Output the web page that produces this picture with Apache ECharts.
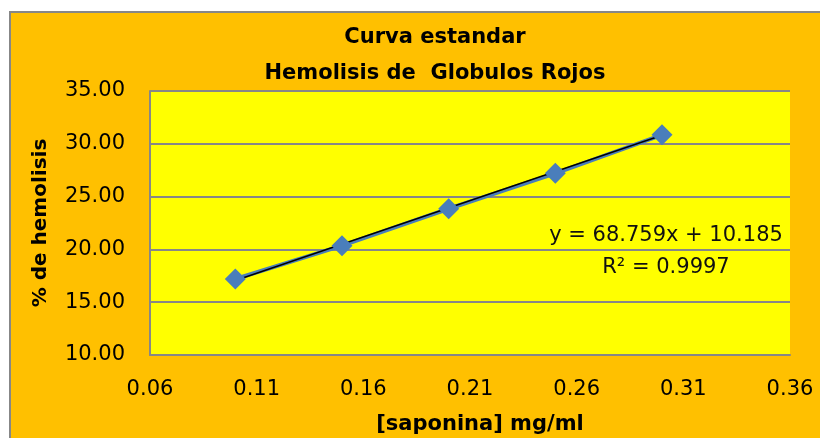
<!DOCTYPE html>
<html>
<head>
<meta charset="utf-8">
<script src="https://cdn.jsdelivr.net/npm/echarts@6/dist/echarts.min.js"></script>
<style>
body { margin: 0; background: #ffffff; }
#frame { position: absolute; left: 9px; top: 11px; width: 830px; height: 440px; background: #FFC000; border: 2px solid #878787; }
#chart { position: absolute; left: 0; top: 0; width: 820px; height: 438px; }
</style>
</head>
<body>
<div id="frame"></div>
<div id="chart"></div>
<script>
// datos de la curva
var concentracion = [0.10, 0.15, 0.20, 0.25, 0.30];
var hemolisis = [17.20, 20.35, 23.85, 27.20, 30.85];
// linea de tendencia (extremos)
var tendenciaX = [0.10, 0.30];
var tendenciaY = [17.06, 30.81];
// ticks del eje x: 0.06 ... 0.36 cada 0.05
var xMin = 0.06, xMax = 0.36, xPaso = 0.05;

var fuente = 'DejaVu Sans';
var gris = '#878787';

function pares(xs, ys) {
	var out = [];
	for(var i = 0; i < xs.length; i++) {
		out.push([xs[i], ys[i]]);
	}
	return out;
}

var option = {
	backgroundColor: 'transparent',
	animation: false,
	title: {
		text: 'Curva estandar\nHemolisis de  Globulos Rojos',
		left: 430,
		top: 15,
		textAlign: 'center',
		textStyle: { fontFamily: fuente, fontSize: 21, fontWeight: 'bold', lineHeight: 36, color: '#000' }
	},
	grid: {
		left: 150,
		right: 30,
		top: 91,
		bottom: 83,
		containLabel: false,
		outerBoundsMode: 'none',
		show: true,
		backgroundColor: '#FFFF00',
		borderWidth: 0,
		borderColor: 'transparent'
	},
	xAxis: {
		type: 'value',
		min: xMin,
		max: xMax,
		interval: xPaso,
		axisLine: { show: true, onZero: false, lineStyle: { color: gris, width: 2 } },
		axisTick: { show: false },
		splitLine: { show: false },
		axisLabel: {
			margin: 24,
			fontFamily: fuente,
			fontSize: 21,
			color: '#000',
			formatter: function(v) { return v.toFixed(2); }
		},
		name: '[saponina] mg/ml',
		nameLocation: 'middle',
		nameGap: 59,
		nameTextStyle: { fontFamily: fuente, fontSize: 21, fontWeight: 'bold', color: '#000', padding: [0, 0, 0, 20] }
	},
	yAxis: {
		type: 'value',
		min: 10,
		max: 35,
		interval: 5,
		position: 'left',
		axisLine: { show: true, onZero: false, lineStyle: { color: gris, width: 2 } },
		axisTick: { show: false },
		splitLine: { lineStyle: { color: gris, width: 2 } },
		axisLabel: {
			margin: 25,
			fontFamily: fuente,
			fontSize: 21,
			color: '#000',
			formatter: function(v) { return v.toFixed(2); }
		},
		name: '% de hemolisis',
		nameLocation: 'middle',
		nameGap: 99,
		nameTextStyle: { fontFamily: fuente, fontSize: 20, fontWeight: 'bold', color: '#000' }
	},
	graphic: [{
		type: 'text',
		x: 666,
		y: 220,
		style: {
			text: 'y = 68.759x + 10.185\nR² = 0.9997',
			fontFamily: fuente,
			fontSize: 21,
			lineHeight: 32,
			align: 'center',
			fill: '#111'
		}
	}],
	series: [{
		name: 'hemolisis',
		type: 'line',
		data: pares(concentracion, hemolisis),
		symbol: 'diamond',
		symbolSize: 21,
		lineStyle: { color: '#4A7EBB', width: 4 },
		itemStyle: { color: '#4A7EBB' }
	}, {
		name: 'tendencia',
		type: 'line',
		data: pares(tendenciaX, tendenciaY),
		symbol: 'none',
		lineStyle: { color: '#000', width: 1.5 }
	}]
};

var chart = echarts.init(document.getElementById('chart'));
chart.setOption(option);
</script>
</body>
</html>
